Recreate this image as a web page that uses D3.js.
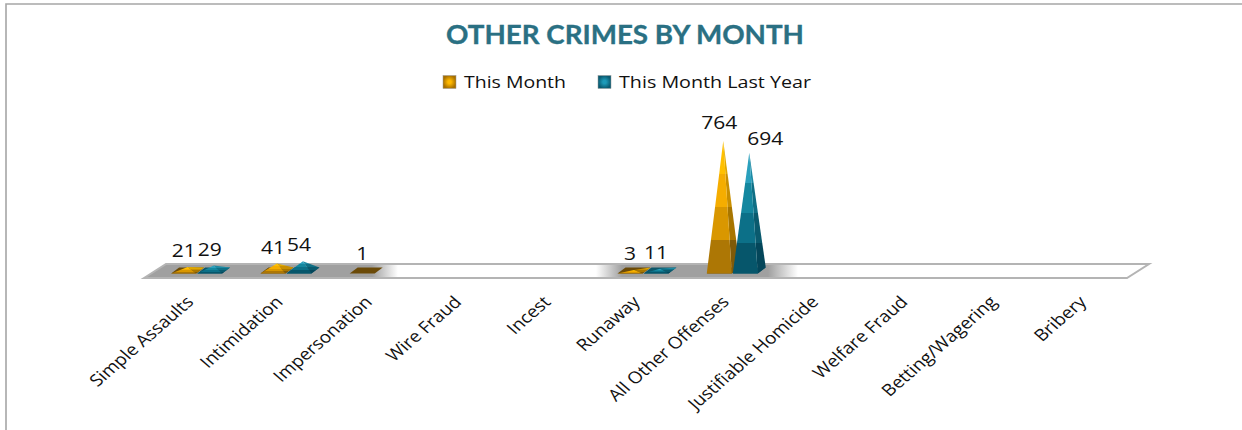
<!DOCTYPE html>
<html><head><meta charset="utf-8">
<script src="https://cdn.jsdelivr.net/npm/d3@7"></script>
<style>html,body{margin:0;padding:0;background:#fff;overflow:hidden}svg{display:block}text{font-family:"Open Sans",sans-serif;fill:#111}</style>
</head><body><svg id="c" width="1242" height="430"></svg>
<script>
const categories=["Simple Assaults","Intimidation","Impersonation","Wire Fraud","Incest","Runaway","All Other Offenses","Justifiable Homicide","Welfare Fraud","Betting/Wagering","Bribery"];
const thisMonth=[21,41,1,null,null,3,764,null,null,null,null];
const lastYear=[29,54,null,null,null,11,694,null,null,null,null];
const seriesNames=["This Month","This Month Last Year"];
const titleText="OTHER CRIMES BY MONTH";

const svg=d3.select("#c");
const defs=svg.append("defs");
const x=d3.scaleBand().domain(categories).range([156,1138]);
const y=d3.scaleLinear().domain([0,764]).range([270.5,141]);
const seriesStep=26;

const palettes=[
 {base:"#6b4a08",bands:["#ffc000","#f5ad00","#d99700","#ad7705"],side:["#e0a800","#c98f00","#a87600","#7f5a08"],leg:["#ffb900","#a87000"]},
 {base:"#0d5668",bands:["#2aa0bd","#14879f","#0c7088","#06566b"],side:["#1d8aa4","#0f6f85","#0a5a6e","#04465a"],leg:["#1d9ab8","#0a5a70"]}
];
function stepGrad(id,cols){
 const g=defs.append("linearGradient").attr("id",id).attr("x1",0).attr("y1",0).attr("x2",0).attr("y2",1);
 cols.forEach((c,i)=>{g.append("stop").attr("offset",i/4).attr("stop-color",c);g.append("stop").attr("offset",(i+1)/4).attr("stop-color",c);});
}
palettes.forEach((p,i)=>{stepGrad("f"+i,p.bands);stepGrad("s"+i,p.side);
 const r=defs.append("radialGradient").attr("id","l"+i);
 r.append("stop").attr("offset","25%").attr("stop-color",p.leg[0]);
 r.append("stop").attr("offset","100%").attr("stop-color",p.leg[1]);
});
const fg=defs.append("linearGradient").attr("id","floor").attr("gradientUnits","userSpaceOnUse").attr("x1",144).attr("x2",1149).attr("y1",0).attr("y2",0);
const fx=v=>(v-144)/(1149-144);
[[144,"#a0a0a0"],[372,"#a0a0a0"],[398,"#ffffff"],[596,"#ffffff"],[622,"#a0a0a0"],[768,"#a0a0a0"],[798,"#ffffff"],[1149,"#ffffff"]]
 .forEach(([v,c])=>fg.append("stop").attr("offset",fx(v)).attr("stop-color",c));

// chart frame: top and left edges only
svg.append("path").attr("d","M6,430V4H1242").attr("fill","none").attr("stroke","#a6a6a6").attr("stroke-width",1.6);

svg.append("text").attr("x",625).attr("y",43.5).attr("text-anchor","middle").style("font-family","Lato").style("font-weight",700)
 .style("font-size","26.5px").style("fill","#2a7083").style("stroke","#2a7083").style("stroke-width",0.35)
 .attr("textLength",358).attr("lengthAdjust","spacingAndGlyphs").text(titleText);

const legend=[{x:443,tx:464,tw:102,n:0},{x:598,tx:619,tw:192,n:1}];
legend.forEach(l=>{
 svg.append("rect").attr("x",l.x).attr("y",75.5).attr("width",13).attr("height",13).attr("fill","url(#l"+l.n+")").attr("stroke","#999").attr("stroke-width",.5);
 svg.append("text").attr("x",l.tx).attr("y",88).style("font-size","17px").attr("textLength",l.tw).attr("lengthAdjust","spacingAndGlyphs").text(seriesNames[l.n]);
});

const FB=278,FT=264,FL=144,FR=1127,D=22;
svg.append("path").attr("d",`M${FL},${FB}L${FL+D},${FT}H${FR+D}L${FR},${FB}Z`).attr("fill","url(#floor)").attr("stroke","#b4b4b4").attr("stroke-width",2);

const baseW=25,depthX=8,depthY=6;
function pyramid(cx,val,s){
 const yc=y(0),front=yc+depthY/2,back=yc-depthY/2,top=y(val);
 const L=cx-baseW/2-depthX/2,R=L+baseW,g=svg.append("g");
 g.append("path").attr("d",`M${L},${front}H${R}L${R+depthX},${back}H${L+depthX}Z`).attr("fill",palettes[s].base);
 if(val>=2){
  g.append("path").attr("d",`M${R},${front}L${R+depthX},${back}L${cx},${top}Z`).attr("fill",`url(#s${s})`);
  g.append("path").attr("d",`M${L},${front}H${R}L${cx},${top}Z`).attr("fill",`url(#f${s})`);
 }
}
const centerOf=(i,s)=>x(categories[i])+x.bandwidth()/2+(s-0.5)*seriesStep;
const labelNudge=[{764:[0,-2]},{694:[20,2]}];
const allSeries=[thisMonth,lastYear];
allSeries.forEach((vals,s)=>vals.forEach((v,i)=>{ if(v!=null) pyramid(centerOf(i,s),v,s); }));
allSeries.forEach((vals,s)=>vals.forEach((v,i)=>{
 if(v==null) return;
 const n=labelNudge[s][v]||[0,0];
 svg.append("text").attr("transform",`translate(${centerOf(i,s)-4+n[0]},${y(v)-10+n[1]}) scale(1.2,1)`)
  .attr("text-anchor","middle").style("font-size","17.5px").text(v);
}));

categories.forEach(c=>{
 const px=x(c)+x.bandwidth()/2-6;
 svg.append("text").attr("transform",`translate(${px},303) scale(1.15,1) rotate(-45)`).attr("text-anchor","end").style("font-size","16.5px").text(c);
});
</script></body></html>
